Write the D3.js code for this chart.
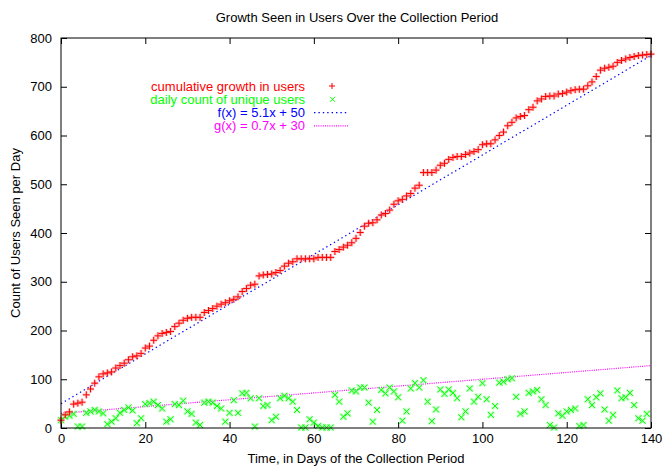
<!DOCTYPE html>
<html>
<head>
<meta charset="utf-8">
<script src="https://cdn.jsdelivr.net/npm/d3@7"></script>
<style>
  body { margin: 0; background: #fff; }
  text { font-family: "Liberation Sans", Arial, Helvetica, sans-serif; }
</style>
</head>
<body>
<svg class="gp" width="663" height="466"></svg>
<script>
// cumulative growth in users, day 0..140
const cumulative = [16, 27, 33, 49, 51, 53, 68, 80, 92, 105, 111, 113, 115, 123, 128, 133, 140, 146, 148, 153,
    164, 168, 180, 189, 194, 196, 198, 208, 215, 221, 225, 227, 227, 227, 237, 241, 245, 250, 254, 257,
    261, 264, 269, 280, 286, 293, 295, 312, 314, 315, 316, 319, 323, 332, 338, 341, 347, 347, 347, 347,
    347, 350, 350, 350, 350, 362, 366, 371, 375, 380, 389, 401, 414, 420, 421, 427, 437, 440, 447, 459,
    466, 469, 476, 481, 492, 498, 524, 524, 524, 529, 539, 543, 551, 555, 557, 557, 561, 564, 567, 571,
    581, 583, 583, 591, 600, 607, 620, 627, 636, 639, 641, 653, 658, 671, 675, 680, 681, 681, 685, 686,
    689, 692, 694, 695, 695, 702, 710, 721, 734, 738, 740, 742, 750, 754, 757, 760, 762, 764, 765, 766, 767]
// daily count of unique users, day 0..139
const daily = [16, 23, 25, 29, 3, 3, 31, 34, 37, 34, 30, 8, 13, 20, 31, 37, 42, 36, 10, 20,
    49, 51, 54, 47, 40, 13, 18, 49, 47, 56, 34, 29, 11, 6, 52, 54, 52, 45, 40, 13,
    31, 57, 31, 71, 72, 61, 3, 61, 45, 47, 16, 23, 61, 66, 61, 54, 37, 1, 1, 18,
    11, 4, 1, 1, 1, 68, 54, 23, 30, 77, 75, 83, 83, 52, 13, 37, 78, 71, 83, 75,
    63, 15, 34, 81, 92, 83, 98, 54, 14, 38, 79, 70, 79, 72, 61, 22, 34, 81, 54, 64,
    92, 59, 27, 45, 93, 95, 100, 102, 64, 29, 34, 72, 75, 78, 59, 47, 6, 1, 30, 25,
    34, 37, 40, 4, 6, 59, 47, 63, 71, 38, 15, 27, 77, 61, 63, 72, 47, 20, 15, 29]
const xTicks = [0, 20, 40, 60, 80, 100, 120, 140]
const yTicks = [0, 100, 200, 300, 400, 500, 600, 700, 800]
const fitF = { a: 5.1, b: 50, label: 'f(x) = 5.1x + 50' }
const fitG = { a: 0.7, b: 30, label: 'g(x) = 0.7x + 30' }
const legendLabels = ['cumulative growth in users', 'daily count of unique users', fitF.label, fitG.label]

const svg = d3.select('.gp')
const width = +svg.attr('width')
const height = +svg.attr('height')
const margin = { top: 38, right: 12, bottom: 38, left: 61 }
const innerWidth = width - margin.left - margin.right
const innerHeight = height - margin.top - margin.bottom
const fs = 13

const xscale = d3.scaleLinear().domain([0, 140]).range([0, innerWidth])
const yscale = d3.scaleLinear().domain([0, 800]).range([innerHeight, 0])

const g = svg.append('g').attr('transform', `translate(${margin.left},${margin.top})`)

// axes, ticks pointing inward, mirrored on top and right
const styleAxis = sel => {
    sel.select('.domain').remove()
    sel.selectAll('line').attr('stroke', '#000')
    sel.selectAll('text').attr('font-size', fs).attr('fill', '#000')
        .attr('font-family', '"Liberation Sans", Arial, sans-serif')
}
const mirror = sel => {
    sel.select('.domain').remove()
    sel.selectAll('text').remove()
    sel.selectAll('line').attr('stroke', '#000')
}
g.append('g').attr('transform', `translate(0,${innerHeight})`)
    .call(d3.axisBottom(xscale).tickValues(xTicks).tickSize(-6).tickPadding(6))
    .call(styleAxis)
g.append('g')
    .call(d3.axisTop(xscale).tickValues(xTicks).tickSize(-6))
    .call(mirror)
g.append('g')
    .call(d3.axisLeft(yscale).tickValues(yTicks).tickSize(-6).tickPadding(9))
    .call(styleAxis)
g.append('g').attr('transform', `translate(${innerWidth},0)`)
    .call(d3.axisRight(yscale).tickValues(yTicks).tickSize(-6))
    .call(mirror)

// fit lines
const fitLine = (fn, color, dash) => {
    g.append('line')
        .attr('x1', xscale(0)).attr('y1', yscale(fn.b))
        .attr('x2', xscale(140)).attr('y2', yscale(fn.a * 140 + fn.b))
        .attr('stroke', color).attr('stroke-width', 1.2)
        .attr('stroke-dasharray', dash)
}
fitLine(fitF, '#0000ff', '1.4,3')
fitLine(fitG, '#ff00ff', '1,1.2')

// markers
const plus = (sel, cx, cy, s) => sel.attr('d', `M${cx - s},${cy}H${cx + s}M${cx},${cy - s}V${cy + s}`)
const cross = (sel, cx, cy, s) => sel.attr('d', `M${cx - s},${cy - s}L${cx + s},${cy + s}M${cx - s},${cy + s}L${cx + s},${cy - s}`)

const drawPoints = (data, shape, color, halo, s) => {
    const pts = data.map((v, i) => [xscale(i), yscale(v)])
    g.append('g').selectAll('path').data(pts).enter().append('path')
        .each(function (d) { shape(d3.select(this), d[0], d[1], s) })
        .attr('stroke', halo).attr('stroke-width', 3).attr('fill', 'none').attr('opacity', 0.45)
    g.append('g').selectAll('path').data(pts).enter().append('path')
        .each(function (d) { shape(d3.select(this), d[0], d[1], s) })
        .attr('stroke', color).attr('stroke-width', 1).attr('fill', 'none')
}
drawPoints(daily, cross, '#00ff00', '#7fff7f', 3)
drawPoints(cumulative, plus, '#ff0000', '#ff9090', 3.5)

// border
g.append('rect').attr('width', innerWidth).attr('height', innerHeight)
    .attr('fill', 'none').attr('stroke', '#000').attr('stroke-width', 1)

// legend
const legendColors = ['#ff0000', '#00ff00', '#0000ff', '#ff00ff']
const legY = i => 86 + i * 13.3
legendLabels.forEach((t, i) => {
    svg.append('text').attr('x', 305).attr('y', legY(i)).attr('dy', '0.35em')
        .attr('text-anchor', 'end').attr('font-size', fs).attr('fill', legendColors[i]).text(t)
})
plus(svg.append('path'), 332, legY(0), 3).attr('stroke', '#ff0000').attr('fill', 'none')
cross(svg.append('path'), 332.5, legY(1), 2.5).attr('stroke', '#00ff00').attr('fill', 'none')
svg.append('line').attr('x1', 314).attr('x2', 348).attr('y1', legY(2)).attr('y2', legY(2))
    .attr('stroke', '#0000ff').attr('stroke-width', 1.2).attr('stroke-dasharray', '1.4,3')
svg.append('line').attr('x1', 314).attr('x2', 348).attr('y1', legY(3)).attr('y2', legY(3))
    .attr('stroke', '#ff00ff').attr('stroke-width', 1.2).attr('stroke-dasharray', '1,1.2')

// titles
svg.append('text').attr('x', 357).attr('y', 22).attr('text-anchor', 'middle')
    .attr('font-size', fs).text('Growth Seen in Users Over the Collection Period')
svg.append('text').attr('x', 356).attr('y', 463).attr('text-anchor', 'middle')
    .attr('font-size', fs).text('Time, in Days of the Collection Period')
svg.append('text').attr('transform', 'translate(20,233) rotate(-90)').attr('text-anchor', 'middle')
    .attr('font-size', fs).text('Count of Users Seen per Day')
</script>
</body>
</html>
